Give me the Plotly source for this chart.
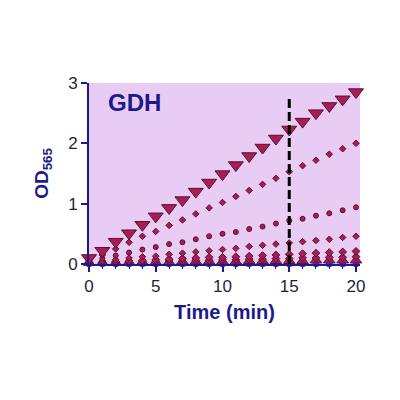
import plotly.graph_objects as go

# time points (min)
time_min = list(range(21))

# OD565 readings for each GDH standard
od_std1 = [0.10, 0.22, 0.37, 0.51, 0.65, 0.79, 0.93, 1.06, 1.20, 1.35, 1.49,
           1.64, 1.79, 1.93, 2.08, 2.23, 2.36, 2.50, 2.62, 2.73, 2.85]
od_std2 = [0.05, 0.15, 0.25, 0.36, 0.46, 0.54, 0.64, 0.73, 0.83, 0.93, 1.02,
           1.12, 1.22, 1.32, 1.42, 1.53, 1.63, 1.72, 1.82, 1.91, 2.00]
od_std3 = [0.04, 0.09, 0.14, 0.19, 0.24, 0.28, 0.33, 0.36, 0.41, 0.46, 0.50,
           0.53, 0.58, 0.62, 0.67, 0.72, 0.75, 0.80, 0.84, 0.89, 0.94]
od_std4 = [0.03, 0.05, 0.07, 0.10, 0.12, 0.13, 0.16, 0.18, 0.20, 0.22, 0.24,
           0.26, 0.29, 0.31, 0.33, 0.35, 0.37, 0.39, 0.41, 0.44, 0.46]
od_std5 = [0.02, 0.03, 0.04, 0.05, 0.06, 0.07, 0.08, 0.09, 0.10, 0.11, 0.11,
           0.12, 0.13, 0.14, 0.15, 0.16, 0.17, 0.18, 0.19, 0.20, 0.21]
od_std6 = [0.02, 0.02, 0.03, 0.03, 0.04, 0.04, 0.05, 0.05, 0.06, 0.06, 0.07,
           0.07, 0.08, 0.08, 0.09, 0.09, 0.10, 0.10, 0.11, 0.11, 0.12]
od_std7 = [0.02, 0.02, 0.02, 0.03, 0.03, 0.03, 0.03, 0.04, 0.04, 0.04, 0.04,
           0.04, 0.05, 0.05, 0.05, 0.05, 0.05, 0.06, 0.06, 0.06, 0.06]
od_blank = [0.0] * 21

stop_time = 15
stop_top = 2.78

NAVY = "#1B1B8C"
FILL = "#A51E58"
EDGE = "#5E0F30"

fig = go.Figure()

series = [
    (od_blank, "circle", 6, "#3A3AD0"),
    (od_std7, "triangle-up", 10, FILL),
    (od_std6, "diamond", 6, FILL),
    (od_std5, "diamond", 6, FILL),
    (od_std4, "diamond", 5, FILL),
    (od_std3, "circle", 5, FILL),
    (od_std2, "diamond", 5, FILL),
    (od_std1, "triangle-down", 13, FILL),
]
for y, sym, size, col in series:
    fig.add_trace(go.Scatter(
        x=time_min, y=y, mode="markers",
        marker=dict(symbol=sym, size=size, color=col,
                    line=dict(color=EDGE if col == FILL else col, width=1)),
        showlegend=False, cliponaxis=False,
    ))

# stop-solution line at 15 min
fig.add_trace(go.Scatter(
    x=[stop_time, stop_time], y=[0, stop_top], mode="lines",
    line=dict(color="black", width=3, dash="9px,4px"),
    showlegend=False,
))

fig.add_annotation(x=1.3, y=2.68, xref="x", yref="y", text="<b>GDH</b>",
                   showarrow=False, xanchor="left",
                   font=dict(family="Liberation Sans", size=24, color=NAVY))

# margins account for the 8px page margin around the plot div
fig.update_layout(
    width=400, height=400,
    paper_bgcolor="white",
    plot_bgcolor="#E9CCF3",
    margin=dict(l=81, r=48, t=75, b=144),
    font=dict(family="Liberation Sans", color="#222244"),
    xaxis=dict(
        range=[0, 20.3], tickvals=[0, 5, 10, 15, 20],
        showgrid=False, zeroline=False,
        showline=True, linecolor=NAVY, linewidth=2,
        ticks="outside", ticklen=6, tickwidth=2, tickcolor=NAVY,
        minor=dict(dtick=1, ticks="outside", ticklen=3, tickcolor=NAVY, tickwidth=1),
        tickfont=dict(size=17, color="#1f1f3a"),
        title=dict(text="<b>Time (min)</b>", standoff=10,
                   font=dict(size=20, color=NAVY)),
    ),
    yaxis=dict(
        range=[0, 3], tickvals=[0, 1, 2, 3],
        showgrid=False, zeroline=False,
        showline=True, linecolor=NAVY, linewidth=2,
        ticks="outside", ticklen=6, tickwidth=2, tickcolor=NAVY,
        tickfont=dict(size=17, color="#1f1f3a"),
        title=dict(text="<b>OD<sub>565</sub></b>", standoff=14,
                   font=dict(size=19, color=NAVY)),
    ),
)

fig.write_html("out.html")
